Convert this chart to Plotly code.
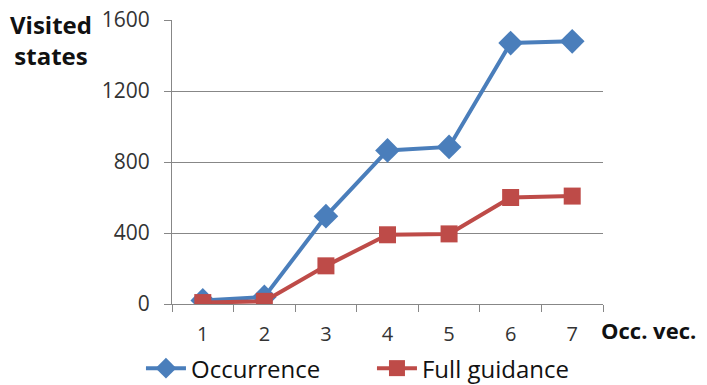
import plotly.graph_objects as go

categories = ["1", "2", "3", "4", "5", "6", "7"]
occurrence = [20, 40, 495, 865, 885, 1470, 1480]
full_guidance = [8, 15, 215, 390, 395, 600, 608]
y_ticks = [0, 400, 800, 1200, 1600]

FONT = "Open Sans"
fig = go.Figure()
fig.add_trace(go.Scatter(
    x=categories, y=occurrence, name="Occurrence", mode="lines+markers",
    line=dict(color="#4a7ebb", width=4),
    marker=dict(symbol="diamond", size=19, color="#4a7ebb"),
))
fig.add_trace(go.Scatter(
    x=categories, y=full_guidance, name="Full guidance", mode="lines+markers",
    line=dict(color="#be4b48", width=4),
    marker=dict(symbol="square", size=17, color="#be4b48"),
))
fig.update_layout(
    width=699, height=377,
    margin=dict(l=164, r=104, t=12, b=81, autoexpand=False),
    plot_bgcolor="white", paper_bgcolor="white",
    font=dict(family=FONT, size=20, color="#222"),
    showlegend=True,
    legend=dict(orientation="h", x=-0.072, y=-0.148,
                xanchor="left", yanchor="top",
                font=dict(size=24, color="#111"), tracegroupgap=0,
                itemwidth=40, entrywidth=176),
    xaxis=dict(type="category", range=[-0.5, 6.5], showline=True, linecolor="#878787",
               linewidth=1, ticks="outside", tickson="boundaries", ticklen=7,
               tickcolor="#878787", showgrid=False, tickfont=dict(size=20, color="#333"),
               ticklabelstandoff=12),
    yaxis=dict(range=[0, 1600], tickvals=y_ticks, showline=True, linecolor="#878787",
               linewidth=1, ticks="outside", ticklen=7, tickcolor="#878787",
               showgrid=True, gridcolor="#878787", gridwidth=1, zeroline=False,
               tickfont=dict(size=21, color="#333"), ticklabelstandoff=10,
               ticklabeloverflow="allow"),
    annotations=[
        dict(text="<b>Visited<br>states</b>", xref="paper", yref="paper", x=-0.28, y=1.05,
             xanchor="center", yanchor="top", showarrow=False, align="center",
             font=dict(size=24, color="#111")),
        dict(text="<b>Occ. vec.</b>", xref="paper", yref="paper", x=0.99, y=-0.03,
             xanchor="left", yanchor="top", showarrow=False,
             font=dict(size=22, color="#111")),
    ],
)
fig.write_html("out.html")
